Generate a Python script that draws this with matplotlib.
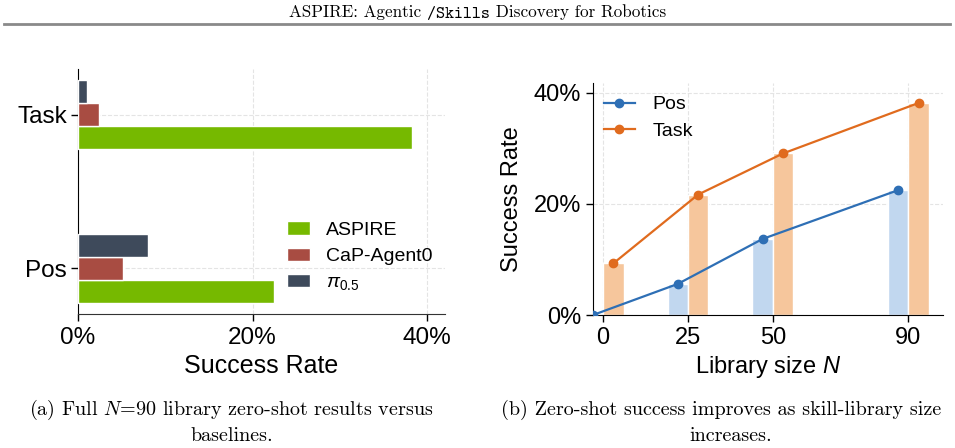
import matplotlib
matplotlib.use('Agg')
import matplotlib.pyplot as plt
import numpy as np
from matplotlib.ticker import PercentFormatter

# Left panel: full N=90 library vs baselines (success rate, %)
cats = ['Pos', 'Task']
methods = ['ASPIRE', 'CaP-Agent0', r'$\pi_{0.5}$']
aspire = [22.5, 38.3]
cap_agent0 = [5.2, 2.4]
pi05 = [8.0, 1.0]

# Right panel: success vs library size
lib_sizes = [0, 25, 50, 90]
pos_rate = [0.0, 5.6, 13.7, 22.5]
task_rate = [9.3, 21.7, 29.1, 38.2]

plt.rcParams['font.family'] = ['Liberation Sans', 'DejaVu Sans']
plt.rcParams['mathtext.fontset'] = 'custom'
plt.rcParams['mathtext.rm'] = 'Liberation Sans'
plt.rcParams['mathtext.it'] = 'Liberation Sans:italic'

fig = plt.figure(figsize=(9.55, 4.48), dpi=100)
W, H = 955.0, 448.0

def ax_rect(x0, y0, x1, y1):
    # pixel box (top-left origin) -> figure fraction rect
    return [x0 / W, 1 - y1 / H, (x1 - x0) / W, (y1 - y0) / H]

grid_kw = dict(color='#e4e4e4', linestyle='--', linewidth=0.8)

# ---- left chart
ax1 = fig.add_axes(ax_rect(78, 69, 445, 314))
y = np.arange(len(cats))
h = 0.15
cols = ['#76b900', '#a84c42', '#3e4a5b']
for off, vals, c, lab in zip([-h, 0, h], [aspire, cap_agent0, pi05], cols, methods):
    ax1.barh(y + off, vals, height=h, color=c, edgecolor='white',
             linewidth=1.0, label=lab, zorder=3)
ax1.set_yticks(y)
ax1.set_yticklabels(cats, fontsize=17.5)
ax1.set_ylim(-0.3, 1.3)
ax1.set_xlim(0, 42.06)
ax1.set_xticks([0, 20, 40])
ax1.xaxis.set_major_formatter(PercentFormatter(decimals=0))
ax1.tick_params(axis='x', labelsize=17.5, length=5, width=1, pad=4)
ax1.tick_params(axis='y', length=5, width=1, pad=3)
ax1.set_xlabel('Success Rate', fontsize=18, labelpad=4)
ax1.grid(True, **grid_kw)
ax1.set_axisbelow(True)
for s in ['top', 'right']:
    ax1.spines[s].set_visible(False)
ax1.spines['left'].set_color('black')
ax1.spines['bottom'].set_color('#333333')
ax1.legend(loc='lower left', bbox_to_anchor=(279 / W, 1 - 300 / H),
           bbox_transform=fig.transFigure, frameon=False, fontsize=14,
           handlelength=1.2, handleheight=0.67, handletextpad=0.8,
           labelspacing=0.45, borderaxespad=0)

# ---- right chart
ax2 = fig.add_axes(ax_rect(593, 83, 943, 315))
x = np.array(lib_sizes)
d = 3
ax2.bar(x - d, pos_rate, width=2 * d, color='#c1d7ef', edgecolor='white',
        linewidth=1.0, zorder=2)
ax2.bar(x + d, task_rate, width=2 * d, color='#f6c69c', edgecolor='white',
        linewidth=1.0, zorder=2)
ax2.plot(x - d, pos_rate, '-o', color='#2e6fb5', lw=1.6, ms=6, label='Pos', zorder=4)
ax2.plot(x + d, task_rate, '-o', color='#e06b1e', lw=1.6, ms=6, label='Task', zorder=4)
ax2.set_xlim(-3, 100.2)
ax2.set_ylim(0, 41.8)
ax2.set_xticks(lib_sizes)
ax2.set_yticks([0, 20, 40])
ax2.yaxis.set_major_formatter(PercentFormatter(decimals=0))
ax2.tick_params(labelsize=17, length=5, width=1)
ax2.set_xlabel('Library size $N$', fontsize=17, labelpad=4)
ax2.set_ylabel('Success Rate', fontsize=17, labelpad=8)
ax2.grid(True, **grid_kw)
ax2.set_axisbelow(True)
for s in ['top', 'right']:
    ax2.spines[s].set_visible(False)
ax2.legend(loc='upper left', bbox_to_anchor=(596 / W, 1 - 88 / H),
           bbox_transform=fig.transFigure, frameon=False, fontsize=14,
           handlelength=1.6, handletextpad=0.9, labelspacing=0.45,
           borderaxespad=0)

# ---- page header and captions
renderer = fig.canvas.get_renderer()
pieces = [('ASPIRE: Agentic ', 'cmr10'), ('/Skills', 'cmtt10'),
          (' Discovery for Robotics', 'cmr10')]
texts = []
xpos = 0.0
for s, fam in pieces:
    t = fig.text(xpos, 1 - 17.5 / H, s, family=fam, fontsize=12.3,
                 va='baseline', ha='left')
    texts.append(t)
    xpos = t.get_window_extent(renderer).x1 / W
total = texts[-1].get_window_extent(renderer).x1 / W
shift = 0.5 - total / 2
for t in texts:
    t.set_x(t.get_position()[0] + shift)

fig.add_artist(plt.Line2D([4 / W, 950 / W], [1 - 24 / H, 1 - 24 / H],
                          transform=fig.transFigure, color='#8a8a8a', lw=2))

cap_kw = dict(family='cmr10', fontsize=14.5, ha='center', va='center',
              math_fontfamily='cm')
fig.text(231 / W, 1 - 410 / H, r'(a) Full $N$=90 library zero-shot results versus', **cap_kw)
fig.text(232 / W, 1 - 436 / H, 'baselines.', **cap_kw)
fig.text(721 / W, 1 - 410 / H, '(b) Zero-shot success improves as skill-library size', **cap_kw)
fig.text(731 / W, 1 - 436 / H, 'increases.', **cap_kw)

fig.savefig('out.png', dpi=100)
